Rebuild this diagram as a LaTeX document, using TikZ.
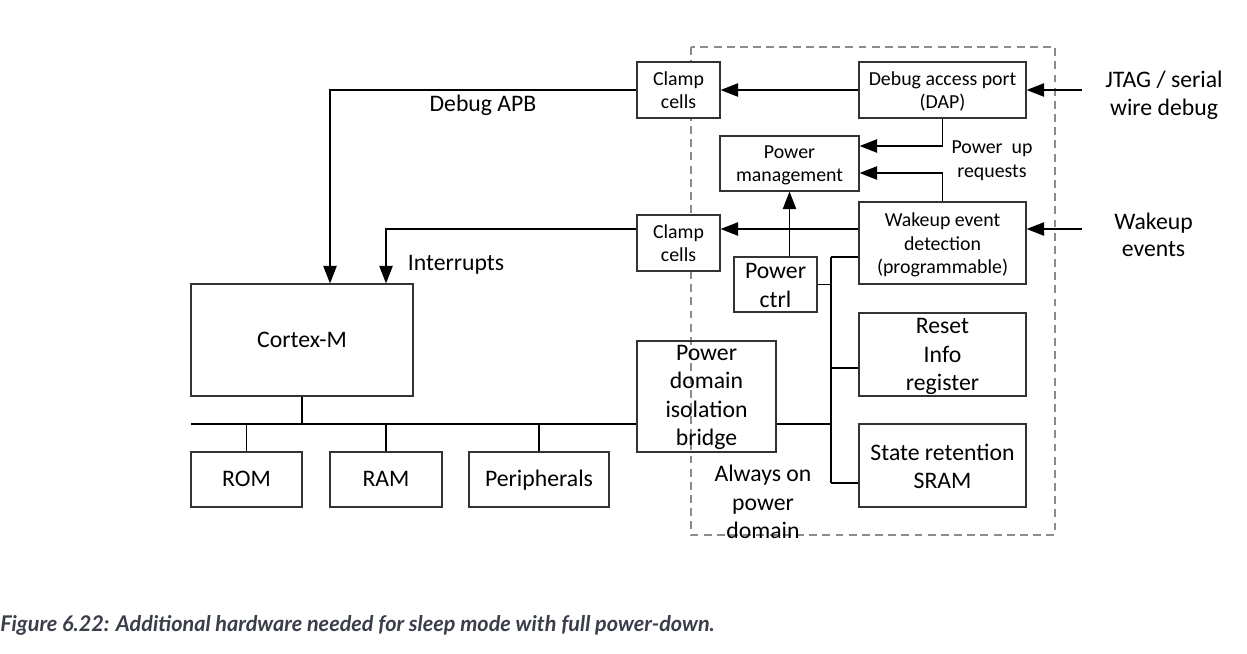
\documentclass[tikz,border=0pt]{standalone}
\usepackage{fontspec}
\setmainfont{Carlito}
\newfontfamily\capfont{Lato}
\usetikzlibrary{arrows.meta,calc}
\definecolor{capcol}{HTML}{3A3D4A}
\begin{document}
\begin{tikzpicture}[x=0.02cm,y=-0.02cm,
  box/.style={draw=black!80,line width=0.6pt,fill=white,inner sep=0pt},
  openbox/.style={draw=black!80,line width=0.6pt,inner sep=0pt},
  sm/.style={font=\fontsize{11.3}{13.4}\selectfont},
  lg/.style={font=\fontsize{13.5}{16.1}\selectfont},
  one/.style={text height=0.84em,text depth=0pt},
  onesm/.style={text height=0.7em,text depth=0pt},
  conn/.style={line width=1.1pt},
  arr/.style={line width=1.1pt,-{Triangle[length=10pt,width=7.5pt]}},
  lbl/.style={inner sep=0pt,align=center}]
\useasboundingbox (0,0) rectangle (1247,653);
% dashed domain
\draw[gray!90,line width=0.9pt,dash pattern=on 4.5pt off 3pt] (691,47) rectangle (1055,535);
% boxes
\node[box,minimum width=83*0.02cm,minimum height=56*0.02cm] (clampA) at (678.5,90) {};
\node[box,minimum width=167*0.02cm,minimum height=56*0.02cm] (dap) at (942.5,90) {};
\node[box,minimum width=139*0.02cm,minimum height=55*0.02cm] (pm) at (789.5,163.5) {};
\node[box,minimum width=167*0.02cm,minimum height=82*0.02cm] (wake) at (942.5,243) {};
\node[box,minimum width=83*0.02cm,minimum height=56*0.02cm] (clampB) at (678.5,243) {};
\node[box,minimum width=83*0.02cm,minimum height=55*0.02cm] (pctrl) at (775.5,284.5) {};
\node[box,minimum width=167*0.02cm,minimum height=83*0.02cm] (reset) at (942.5,354.5) {};
\node[box,minimum width=167*0.02cm,minimum height=83*0.02cm] (sram) at (942.5,465.5) {};
\node[openbox,minimum width=139*0.02cm,minimum height=111*0.02cm] (bridge) at (706.5,396.5) {};
\node[box,minimum width=222*0.02cm,minimum height=112*0.02cm] (cortex) at (302,340) {};
\node[box,minimum width=111*0.02cm,minimum height=55*0.02cm] (rom) at (246.5,479.5) {};
\node[box,minimum width=112*0.02cm,minimum height=55*0.02cm] (ram) at (386,479.5) {};
\node[box,minimum width=140*0.02cm,minimum height=55*0.02cm] (periph) at (539,479.5) {};
% box texts
\node[lbl,sm] (clampAt) at ($(clampA)+(0,0)$) {Clamp\\cells};
\node[lbl,sm] (dapt) at ($(dap)+(0,1.5)$) {Debug access port\\(DAP)};
\node[lbl,sm] (pmt) at ($(pm)+(0,2)$) {Power\\management};
\node[lbl,sm] (waket) at ($(wake)+(0,2)$) {Wakeup event\\detection\\(programmable)};
\node[lbl,sm] (clampBt) at ($(clampB)+(0,0)$) {Clamp\\cells};
\node[lbl,lg] (pctrlt) at ($(pctrl)+(0,1)$) {Power\\ctrl};
\node[lbl,lg] (resett) at ($(reset)+(0,2)$) {Reset\\Info\\register};
\node[lbl,lg] (sramt) at ($(sram)+(0,1)$) {State retention\\SRAM};
\node[lbl,lg] (bridget) at ($(bridge)+(0,1)$) {Power\\domain\\isolation\\bridge};
\node[lbl,lg,one] (cortext) at (cortex) {Cortex-M};
\node[lbl,lg,one] (romt) at (rom) {ROM};
\node[lbl,lg,one] (ramt) at (ram) {RAM};
\node[lbl,lg,one] (periapht) at (periph) {Peripherals};
% labels
\node[lbl,lg,one] (lapb) at (483,104) {Debug APB};
\node[lbl,lg,one] (lint) at (456,263.5) {Interrupts};
\node[lbl,sm,onesm] (lpu1) at (992,147.5) {Power\ \ up};
\node[lbl,sm,onesm] (lpu2) at (992,171.5) {requests};
\node[lbl,lg] (laon) at (763,502) {Always on\\power\\domain};
\node[lbl,lg] (ljtag) at (1164,95.5) {JTAG / serial\\wire debug};
\node[lbl,lg,font=\fontsize{13.5}{15.3}\selectfont] (lwev) at (1153.5,234.5) {Wakeup\\events};
\node[anchor=west,inner sep=0pt,text=capcol,font=\capfont\bfseries\itshape\fontsize{12.3}{15}\selectfont] (cap) at (0,625) {Figure 6.22: Additional hardware needed for sleep mode with full power-down.};
% coordinates
\coordinate (jtagIn) at (1082,90);
\coordinate (wevIn) at (1082,229);
\coordinate (apbCorner) at (330,90);
\coordinate (intCorner) at (386,229);
\coordinate (busL) at (191,424);
\coordinate (busV1) at (831,257);
\coordinate (busV2) at (831,483);
% arrows
\draw[arr] (dap.west) -- (clampA.east);
\draw[arr] (jtagIn) -- (dap.east);
\draw[arr] (wevIn) -- (wevIn -| wake.east);
\draw[arr] (wevIn -| wake.west) -- (wevIn -| clampB.east);
\draw[arr] (dap.south) |- (pm.east |- 0,146);
\draw[arr] (wake.north) |- (pm.east |- 0,173);
\draw[arr] (pm.south |- pctrl.north) -- (pm.south);
\draw[arr] (clampA.west) -- (apbCorner) -- (apbCorner |- cortex.north);
\draw[arr] (wevIn -| clampB.west) -- (intCorner) -- (intCorner |- cortex.north);
% buses
\draw[conn] (busL) -- (busL -| bridge.west);
\draw[conn] (bridge.east |- busL) -- (busL -| busV1);
\draw[conn] (cortex.south) -- (cortex.south |- busL);
\draw[conn] (rom.north) -- (rom.north |- busL);
\draw[conn] (ram.north) -- (ram.north |- busL);
\draw[conn] (periph.north) -- (periph.north |- busL);
\draw[conn] (busV1) -- (busV2);
\draw[conn] (busV1) -- (busV1 -| wake.west);
\draw[conn] (pctrl.east) -- (pctrl.east -| busV1);
\draw[conn] (busV1 |- 0,368) -- (reset.west |- 0,368);
\draw[conn] (busV2) -- (busV2 -| sram.west);
\end{tikzpicture}
\end{document}
